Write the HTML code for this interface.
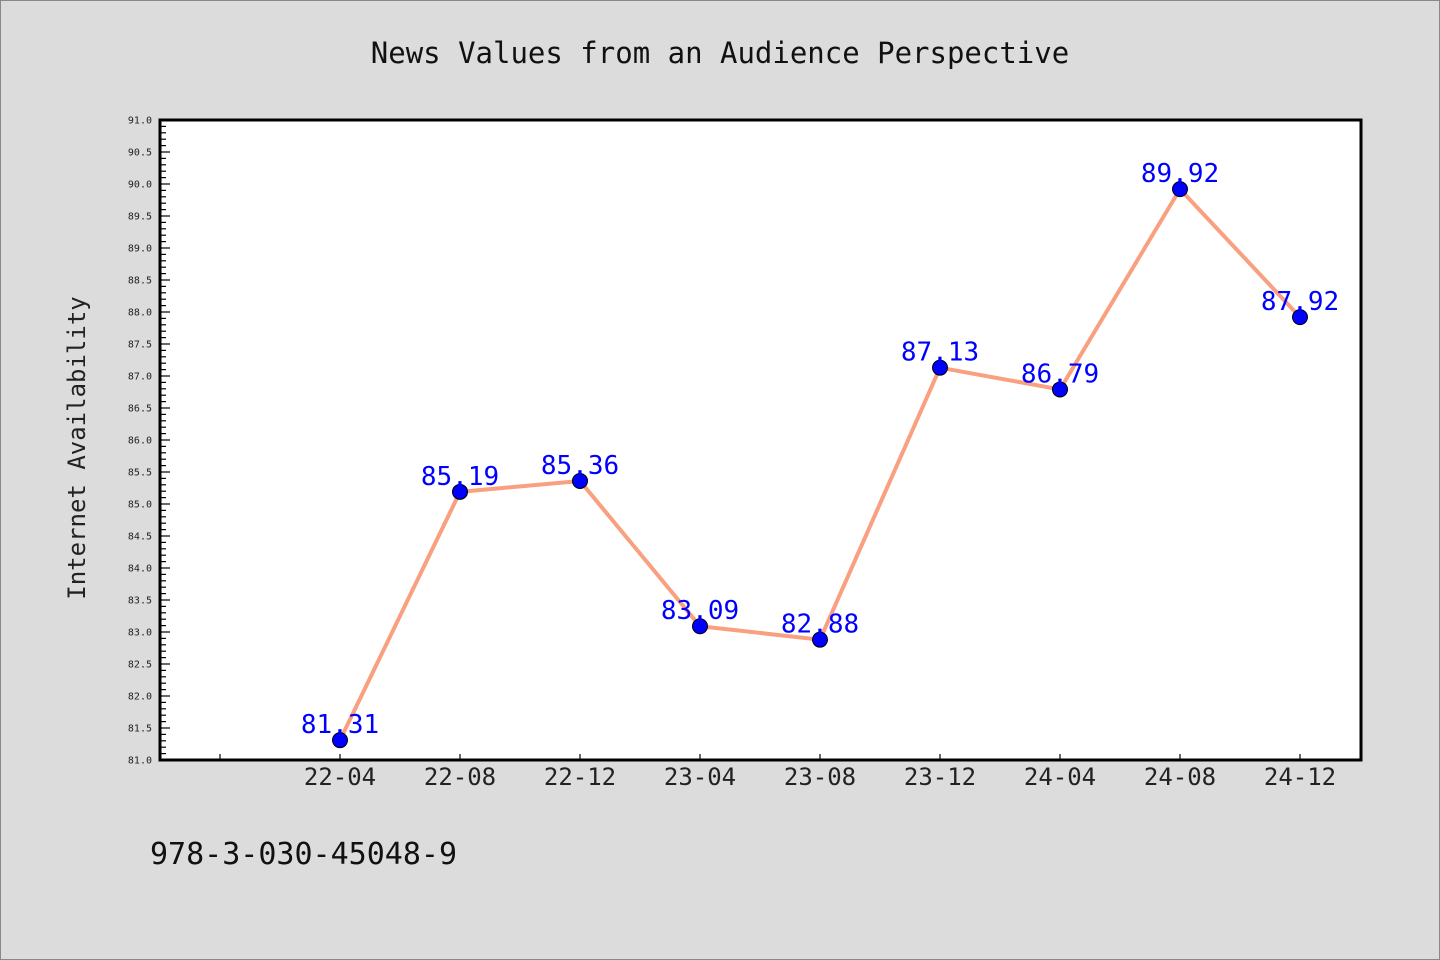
<!DOCTYPE html>
<html><head><meta charset="utf-8"><style>
html,body{margin:0;padding:0;background:#dcdcdc;}
svg{display:block;font-family:"WenQuanYi Zen Hei","DejaVu Sans Mono","Liberation Mono",monospace;}
</style></head><body>
<svg id="chart" width="1440" height="960" viewBox="0 0 1440 960">
<rect x="0.5" y="0.5" width="1439" height="959" fill="#dcdcdc" stroke="#888"/>
<text x="720" y="63" text-anchor="middle" font-size="29" fill="#111">News Values from an Audience Perspective</text>
<rect x="160" y="120" width="1201" height="640" fill="#fff" stroke="#000" stroke-width="3"/>
<text transform="translate(85,448) rotate(-90)" text-anchor="middle" font-size="24" fill="#222">Internet Availability</text>
<text x="150" y="864" font-size="30" fill="#111">978-3-030-45048-9</text>
<g id="axes"></g>
<g id="marks"></g>
</svg>
<script>
const categories=["22-04","22-08","22-12","23-04","23-08","23-12","24-04","24-08","24-12"];
const values=[81.31,85.19,85.36,83.09,82.88,87.13,86.79,89.92,87.92];
const valueLabels=["81.31","85.19","85.36","83.09","82.88","87.13","86.79","89.92","87.92"];
const yMin=81.0, yMax=91.0;
const ns="http://www.w3.org/2000/svg";
const L=160,R=1361,T=120,B=760;
function y(v){return B-(v-yMin)/(yMax-yMin)*(B-T);}
function x(i){return 340+i*120;}
function mk(tag,attrs,parent){const e=document.createElementNS(ns,tag);for(const k in attrs)e.setAttribute(k,attrs[k]);parent.appendChild(e);return e;}
const axes=document.getElementById('axes'), marks=document.getElementById('marks');
for(let k=0;k<=100;k++){
  const v=yMin+k*0.1, yy=y(v), major=k%5===0;
  const t=mk('line',{x1:L,x2:L+(major?10:6),y1:yy,y2:yy,stroke:'#000','stroke-width':1.2},axes);
  
  
  if(major){
    const lb=mk('text',{x:152,y:yy+3.5,'text-anchor':'end','font-size':10,fill:'#222'},axes);
    lb.textContent=v.toFixed(1);
    
    
  }
}
const t0=mk('line',{x1:220,x2:220,y1:B,y2:B-6,stroke:'#000','stroke-width':1.2},axes);


categories.forEach((c,i)=>{
  const t=mk('line',{x1:x(i),x2:x(i),y1:B,y2:B-6,stroke:'#000','stroke-width':1.2},axes);
  
  
  const lb=mk('text',{x:x(i),y:785,'text-anchor':'middle','font-size':24,fill:'#222'},axes);
  lb.textContent=c;
  
  
});
const line=mk('polyline',{points:values.map((v,i)=>x(i)+','+y(v)).join(' '),fill:'none',stroke:'#f8a080','stroke-width':4,'stroke-linejoin':'round'},marks);


values.forEach((v,i)=>{
  const c=mk('circle',{cx:x(i),cy:y(v),r:7.5,fill:'#0000ff',stroke:'#000','stroke-width':1},marks);
  
  
});
values.forEach((v,i)=>{
  const lb=mk('text',{x:x(i),y:y(v)-7,'text-anchor':'middle','font-size':26,fill:'#0000ff'},marks);
  lb.textContent=valueLabels[i];
  
  
});
</script>
</body></html>
